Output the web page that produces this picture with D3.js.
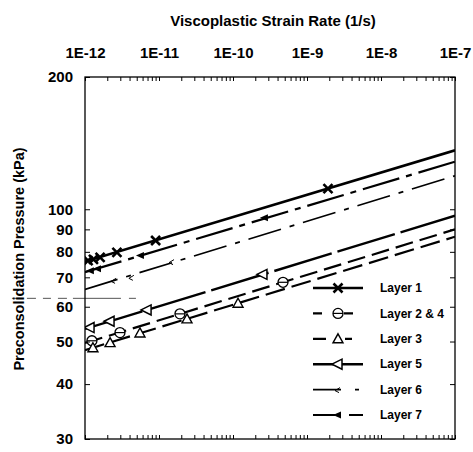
<!DOCTYPE html>
<html>
<head>
<meta charset="utf-8">
<script src="https://cdn.jsdelivr.net/npm/d3@7"></script>
<style>
  body { margin: 0; background: #fff; }
  svg { display: block; font-family: "Liberation Sans", Arial, sans-serif; font-weight: bold; }
</style>
</head>
<body>
<svg id="chart"></svg>
<script>
// Strain rates at both ends of the fitted lines
const lineRates = [1e-12, 1e-7];

// Fitted lines (pressure at 1E-12 and at 1E-7, kPa)
const layer1Line = [76.0, 136.2];
const layer24Line = [49.6, 90.0];
const layer3Line = [47.8, 86.6];
const layer5Line = [53.4, 96.7];
const layer6Line = [65.7, 119.2];
const layer7Line = [71.9, 128.3];

// Measured points
const layer1Rates = [1.1e-12, 1.3e-12, 1.6e-12, 2.7e-12, 9.0e-12, 1.92e-9];
const layer1Values = [76.4, 76.9, 77.7, 79.8, 84.9, 111.4];
const layer24Rates = [1.24e-12, 2.97e-12, 1.92e-11, 4.74e-10];
const layer24Values = [50.2, 52.4, 57.8, 68.2];
const layer3Rates = [1.28e-12, 2.18e-12, 5.53e-12, 2.39e-11, 1.17e-10];
const layer3Values = [48.4, 49.7, 52.3, 56.3, 61.1];
const layer5Rates = [1.17e-12, 2.18e-12, 6.9e-12, 2.54e-10];
const layer5Values = [53.8, 55.6, 59.0, 71.1];
const layer6Rates = [2.47e-12, 4.3e-12, 1.5e-11];
const layer6Values = [68.9, 70.0, 76.0];
const layer7Rates = [1.2e-12, 1.5e-12, 5.7e-12, 2.7e-10];
const layer7Values = [72.5, 73.2, 78.5, 95.7];

// Stray dashed line left of the axis in the scan
const strayRates = [1.03e-13, 5.0e-12];
const strayValue = 62.7;

// Axis ticks
const xTickValues = [1e-12, 1e-11, 1e-10, 1e-9, 1e-8, 1e-7];
const xTickLabels = ["1E-12", "1E-11", "1E-10", "1E-9", "1E-8", "1E-7"];
const yTickValues = [30, 40, 50, 60, 70, 80, 90, 100, 200];
const yTickLabels = ["30", "40", "50", "60", "70", "80", "90", "100", "200"];

const width = 473;
const height = 452;
const marginTop = 77;
const marginRight = 18;
const marginBottom = 13;
const marginLeft = 85;

const x = d3.scaleLog()
  .domain([1e-12, 1e-7])
  .range([marginLeft, width - marginRight]);

const y = d3.scaleLog()
  .domain([30, 200])
  .range([height - marginBottom, marginTop]);

const series = [
  { name: "Layer 1", line: layer1Line, rates: layer1Rates, values: layer1Values,
    dash: null, width: 2.6, marker: "x" },
  { name: "Layer 2 & 4", line: layer24Line, rates: layer24Rates, values: layer24Values,
    dash: "18,7", width: 2.2, marker: "circle", legendDash: "9,22" },
  { name: "Layer 3", line: layer3Line, rates: layer3Rates, values: layer3Values,
    dash: "20,7", width: 2.2, marker: "triangle", legendDash: "13,19,7,20" },
  { name: "Layer 5", line: layer5Line, rates: layer5Rates, values: layer5Values,
    dash: "60,6", width: 2.4, marker: "left" },
  { name: "Layer 6", line: layer6Line, rates: layer6Rates, values: layer6Values,
    dash: "34,9,5,9", width: 1.7, marker: "tiny", legendDash: "28,14,4,10" },
  { name: "Layer 7", line: layer7Line, rates: layer7Rates, values: layer7Values,
    dash: "38,7,6,7", width: 2.2, marker: "leftFilled", legendDash: "22,14,14,20" }
];

const svg = d3.select("#chart")
  .attr("width", width)
  .attr("height", height)
  .attr("viewBox", [0, 0, width, height]);

svg.append("defs").append("clipPath")
  .attr("id", "plot-clip")
  .append("rect")
  .attr("x", marginLeft)
  .attr("y", marginTop)
  .attr("width", width - marginLeft - marginRight)
  .attr("height", height - marginTop - marginBottom);

// Marker drawing
const drawMarker = (g, type) => {
  if (type === "x") {
    g.append("path").attr("d", "M-4.5,-4.5L4.5,4.5M-4.5,4.5L4.5,-4.5")
      .attr("stroke", "#000").attr("stroke-width", 2.6).attr("fill", "none");
  } else if (type === "circle") {
    g.append("circle").attr("r", 5).attr("fill", "#fff")
      .attr("stroke", "#000").attr("stroke-width", 1.3);
    g.append("path").attr("d", "M-5,0L5,0").attr("stroke", "#000").attr("stroke-width", 1.2);
  } else if (type === "triangle") {
    g.append("path").attr("d", "M0,-5L5,4L-5,4Z").attr("fill", "#fff")
      .attr("stroke", "#000").attr("stroke-width", 1.4);
  } else if (type === "left") {
    g.append("path").attr("d", "M-6,0L4,-5L4,5Z").attr("fill", "#fff")
      .attr("stroke", "#000").attr("stroke-width", 1.5);
  } else if (type === "leftFilled") {
    g.append("path").attr("d", "M-5,0L3,-3.5L3,3.5Z").attr("fill", "#000");
  } else if (type === "tiny") {
    g.append("path").attr("d", "M-3,1L2,-2M-3,1L1,3").attr("stroke", "#000")
      .attr("stroke-width", 1).attr("fill", "none");
  }
};

const line = d3.line()
  .x((d) => x(d[0]))
  .y((d) => y(d[1]));

const plot = svg.append("g").attr("clip-path", "url(#plot-clip)");

// Fitted lines
plot.selectAll("path.fit")
  .data(series)
  .join("path")
  .attr("class", "fit")
  .attr("fill", "none")
  .attr("stroke", "#000")
  .attr("stroke-width", (d) => d.width)
  .attr("stroke-dasharray", (d) => d.dash)
  .attr("d", (d) => line(lineRates.map((r, i) => [r, d.line[i]])));

// Markers
series.forEach((s) => {
  plot.append("g")
    .selectAll("g")
    .data(s.rates.map((r, i) => [r, s.values[i]]))
    .join("g")
    .attr("transform", (d) => `translate(${x(d[0])},${y(d[1])})`)
    .each(function () { drawMarker(d3.select(this), s.marker); });
});

// Stray scan line
svg.append("path")
  .attr("fill", "none")
  .attr("stroke", "#555")
  .attr("stroke-width", 1)
  .attr("stroke-dasharray", "8,7,9,7,8,7,9,6,48")
  .attr("d", line(strayRates.map((r) => [r, strayValue])));

// Frame
svg.append("rect")
  .attr("x", marginLeft)
  .attr("y", marginTop)
  .attr("width", width - marginLeft - marginRight)
  .attr("height", height - marginTop - marginBottom)
  .attr("fill", "none")
  .attr("stroke", "#000")
  .attr("stroke-width", 1.3);

// Axes
const minorX = x.ticks();
const styleAxis = (g) => {
  g.select(".domain").remove();
  g.selectAll(".tick line").attr("stroke", "#000").attr("stroke-width", 1);
  g.selectAll(".tick text").attr("fill", "#000");
};

svg.append("g")
  .attr("transform", `translate(0,${marginTop})`)
  .style("font", "bold 15px 'Liberation Sans', Arial, sans-serif")
  .call(d3.axisTop(x).tickValues(minorX).tickSize(-4).tickPadding(19)
    .tickFormat((d) => {
      const i = xTickValues.findIndex((v) => Math.abs(v - d) / v < 1e-6);
      return i >= 0 ? xTickLabels[i] : "";
    }))
  .call(styleAxis);

svg.append("g")
  .attr("transform", `translate(0,${height - marginBottom})`)
  .call(d3.axisBottom(x).tickValues(minorX).tickSize(-4).tickFormat(""))
  .call(styleAxis);

svg.append("g")
  .attr("transform", `translate(${marginLeft},0)`)
  .style("font", "bold 15px 'Liberation Sans', Arial, sans-serif")
  .call(d3.axisLeft(y).tickValues(yTickValues).tickSize(-5).tickPadding(12)
    .tickFormat((d) => yTickLabels[yTickValues.indexOf(d)]))
  .call(styleAxis);

svg.append("g")
  .attr("transform", `translate(${width - marginRight},0)`)
  .call(d3.axisRight(y).tickValues(yTickValues).tickSize(-5).tickFormat(""))
  .call(styleAxis);

// Titles
svg.append("text")
  .attr("x", (marginLeft + width - marginRight) / 2 + 3)
  .attr("y", 26)
  .attr("text-anchor", "middle")
  .style("font-size", "15px")
  .text("Viscoplastic Strain Rate (1/s)");

svg.append("text")
  .attr("transform", `translate(24,${(marginTop + height - marginBottom) / 2 + 1}) rotate(-90)`)
  .attr("text-anchor", "middle")
  .style("font-size", "14.5px")
  .text("Preconsolidation Pressure (kPa)");

// Legend
const legend = svg.append("g").attr("transform", "translate(313,288)");
const rowH = 25.4;
const rows = legend.selectAll("g")
  .data(series)
  .join("g")
  .attr("transform", (d, i) => `translate(0,${i * rowH})`);

rows.append("path")
  .attr("d", "M0,0H50")
  .attr("stroke", "#000")
  .attr("stroke-width", (d) => d.width)
  .attr("stroke-dasharray", (d) => d.legendDash || null)
  .attr("fill", "none");

rows.append("g")
  .attr("transform", "translate(25,0)")
  .each(function (d) { drawMarker(d3.select(this), d.marker); });

rows.append("text")
  .attr("x", 67)
  .attr("dy", "0.35em")
  .style("font-size", "12px")
  .text((d) => d.name);
</script>
</body>
</html>
